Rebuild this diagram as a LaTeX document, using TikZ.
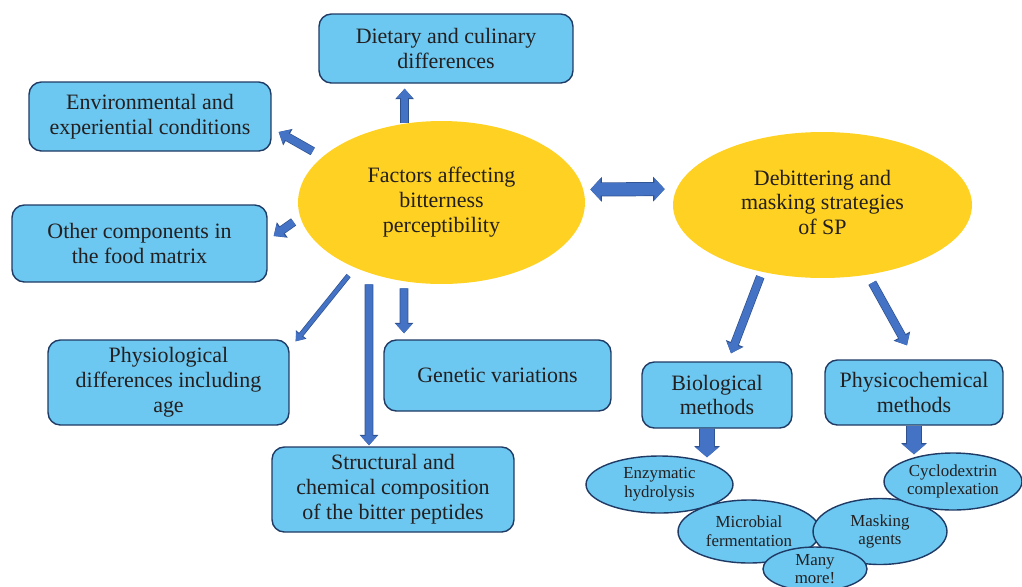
\documentclass[tikz,border=0pt]{standalone}
\usepackage{fontspec}
\setmainfont{Liberation Serif}
\usetikzlibrary{shapes.geometric, arrows.meta}
\definecolor{boxblue}{HTML}{6CC8F0}
\definecolor{boxedge}{HTML}{1F3A64}
\definecolor{sunyellow}{HTML}{FED122}
\definecolor{arrowblue}{HTML}{4472C4}
\definecolor{arrowedge}{HTML}{2F528F}
\definecolor{inktext}{HTML}{231F20}
\newcommand{\bigtxt}{\fontsize{12.5}{14.2}\selectfont}
\newcommand{\smalltxt}{\fontsize{9.6}{10.6}\selectfont}

\tikzset{
  infobox/.style={draw=boxedge, fill=boxblue, line width=0.8pt, rounded corners=7pt,
    align=center, text=inktext, font=\bigtxt},
  factor/.style={ellipse, fill=sunyellow, align=center, text=inktext, font=\bigtxt},
  method/.style={ellipse, draw=boxedge, fill=boxblue, line width=0.8pt, inner sep=0pt,
    align=center, text=inktext, font=\smalltxt},
  blockarrow/.style={preaction={draw=arrowedge, line width=5pt, -{Triangle[length=6pt,width=10.4pt]}},
    draw=arrowblue, line width=4.2pt, -{Triangle[length=5.3pt,width=8.8pt]}},
  thinarrow/.style={preaction={draw=arrowedge, line width=3pt, -{Triangle[length=5pt,width=7.4pt]}},
    draw=arrowblue, line width=2.2pt, -{Triangle[length=4.4pt,width=6pt]}},
  fatarrow/.style={preaction={draw=arrowedge, line width=9pt, -{Triangle[length=6.4pt,width=14.4pt]}},
    draw=arrowblue, line width=8.2pt, -{Triangle[length=5.7pt,width=13pt]}},
  dblarrow/.style={preaction={draw=arrowedge, line width=8pt,
      {Triangle[length=6.6pt,width=13.8pt]}-{Triangle[length=6.6pt,width=13.8pt]}},
    draw=arrowblue, line width=7.2pt,
    {Triangle[length=5.9pt,width=12.4pt]}-{Triangle[length=5.9pt,width=12.4pt]}},
}

\begin{document}
\begin{tikzpicture}[x=0.02cm, y=-0.02cm]
\useasboundingbox (0,0) rectangle (1022,586);
% Outer boxes:
\node (diet) [infobox, minimum width=5.08cm, minimum height=1.38cm] at (446,48.5) {Dietary and culinary\\differences};
\node (envir) [infobox, minimum width=4.84cm, minimum height=1.38cm] at (150,116.5) {Environmental and\\experiential conditions};
\node (other) [infobox, minimum width=5.1cm, minimum height=1.54cm] at (139.5,243.5) {Other components in\\the food matrix};
\node (physio) [infobox, minimum width=4.82cm, minimum height=1.7cm] at (168.5,382.5) {Physiological\\differences including\\age};
\node (genetic) [infobox, minimum width=4.54cm, minimum height=1.42cm] at (497.5,375.5) {Genetic variations};
\node (struct) [infobox, minimum width=4.84cm, minimum height=1.7cm] at (393,489.5) {Structural and\\chemical composition\\of the bitter peptides};
% Central ellipses:
\node (factors) [factor, minimum width=5.74cm, minimum height=3.26cm] at (441.5,202.5) {Factors affecting\\bitterness\\perceptibility};
\node (debitter) [factor, minimum width=5.98cm, minimum height=2.92cm] at (822.5,205) {\raisebox{0.1cm}{\begin{tabular}{@{}c@{}}Debittering and\\masking strategies\\of SP\end{tabular}}};
% Methods:
\node (bio) [infobox, minimum width=3cm, minimum height=1.32cm] at (717,395) {Biological\\methods};
\node (physchem) [infobox, minimum width=3.56cm, minimum height=1.3cm] at (914,392.5) {Physicochemical\\methods};
\node (enzym) [method, minimum width=2.94cm, minimum height=1.14cm] at (659.5,484.5) {Enzymatic\\hydrolysis};
\node (micro) [method, minimum width=2.84cm, minimum height=1.26cm] at (749,531.5) {Microbial\\fermentation};
\node (masking) [method, minimum width=2.68cm, minimum height=1.32cm] at (880,531.5) {Masking\\agents};
\node (cyclo) [method, minimum width=2.76cm, minimum height=1.14cm] at (953,481.5) {Cyclodextrin\\complexation};
\node (many) [method, minimum width=2.08cm, minimum height=0.88cm] at (815,569) {Many\\more!};
% Arrows:
\draw[blockarrow, shorten >=0.1cm] (factors.115) -- (factors.115 |- diet.south);
\draw[blockarrow, shorten <=0.22cm] (factors.159) -- ([shift={(7,15.5)}]envir.east);
\draw[blockarrow, shorten <=0.16cm] (factors.186) -- ([shift={(6,-7.5)}]other.east);
\draw[thinarrow, shorten <=0.2cm] (factors.217) -- ([shift={(6,2)}]physio.north east);
\draw[blockarrow, shorten >=0.02cm] ([xshift=-1.45cm]factors.south) -- ([xshift=-0.48cm]struct.north);
\draw[blockarrow, shorten <=0.08cm, shorten >=0.12cm] ([xshift=-0.75cm]factors.south) -- ([xshift=-1.87cm]genetic.north);
\draw[dblarrow, shorten <=0.1cm, shorten >=0.16cm] ([yshift=0.26cm]factors.east) -- ([yshift=0.32cm]debitter.west);
\draw[blockarrow, shorten <=0.1cm] (debitter.228) -- ([shift={(14,-8)}]bio.north);
\draw[blockarrow, shorten <=0.18cm] (debitter.303) -- ([shift={(-7,-14)}]physchem.north);
\draw[fatarrow] ([xshift=-0.2cm]bio.south) -- ([shift={(47.5,2)}]enzym.north);
\draw[fatarrow] (physchem.south) -- ([shift={(-39,2)}]cyclo.north);
\end{tikzpicture}
\end{document}
